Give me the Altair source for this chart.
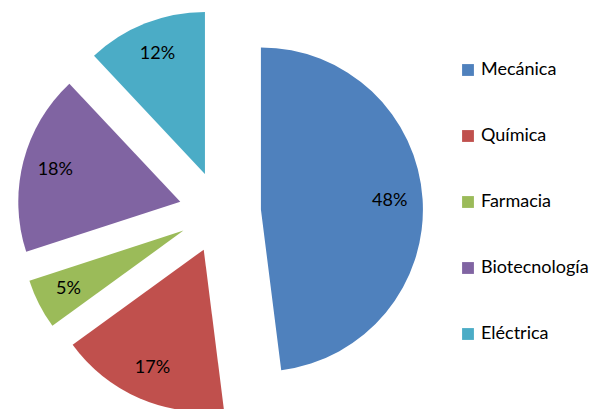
import altair as alt
import pandas as pd

categories = ["Mecánica", "Química", "Farmacia", "Biotecnología", "Eléctrica"]
values = [48, 17, 5, 18, 12]
colors = ["#4F81BD", "#C0504D", "#9BBB59", "#8064A2", "#4BACC6"]

df = pd.DataFrame({"cat": categories, "val": values, "order": list(range(len(categories)))})

CX, CY = 212, 204   # pie centre (chart pixels)
R = 162             # pie radius
EXPLODE = 41        # explosion distance
LABEL_R = 129       # label distance from slice apex
FONT = "Lato"

base = (
    alt.Chart(df)
    .transform_joinaggregate(total="sum(val)")
    .transform_window(cum="sum(val)", sort=[alt.SortField("order")])
    .transform_calculate(t1="2*PI*datum.cum/datum.total")
    .transform_calculate(t0="2*PI*(datum.cum-datum.val)/datum.total")
    .transform_calculate(mid="(datum.t0+datum.t1)/2")
    .transform_calculate(ux="sin(datum.mid)", uy="cos(datum.mid)")
    .transform_calculate(label="datum.val + '%'")
)

x_enc = alt.X("ux:Q", scale=alt.Scale(domain=[-1, 1], range=[CX - EXPLODE, CX + EXPLODE], nice=False, zero=False), axis=None)
y_enc = alt.Y("uy:Q", scale=alt.Scale(domain=[-1, 1], range=[CY + EXPLODE, CY - EXPLODE], nice=False, zero=False), axis=None)

arcs = base.mark_arc(radius=R, stroke=None).encode(
    x=x_enc,
    y=y_enc,
    theta=alt.Theta("t0:Q", scale=None, stack=False),
    theta2=alt.Theta2("t1:Q"),
    color=alt.Color(
        "cat:N",
        scale=alt.Scale(domain=categories, range=colors),
        legend=alt.Legend(
            title=None,
            orient="none",
            legendX=451,
            legendY=53,
            padding=0,
            symbolType="square",
            symbolSize=140,
            symbolStrokeWidth=0,
            labelFontSize=18,
            labelFont=FONT,
            labelColor="#000000",
            labelOffset=4,
            rowPadding=48,
        ),
    ),
)

labels = base.mark_text(radius=LABEL_R, fontSize=18, font=FONT, color="#000000").encode(
    x=x_enc,
    y=y_enc,
    theta=alt.Theta("mid:Q", scale=None, stack=False),
    text="label:N",
)

chart = (
    alt.layer(arcs, labels)
    .properties(width=586, height=401, padding=0, autosize=alt.AutoSizeParams(type="none"))
    .configure_view(stroke=None)
)

chart.save("out.html", embed_options={"renderer": "svg", "actions": False})
